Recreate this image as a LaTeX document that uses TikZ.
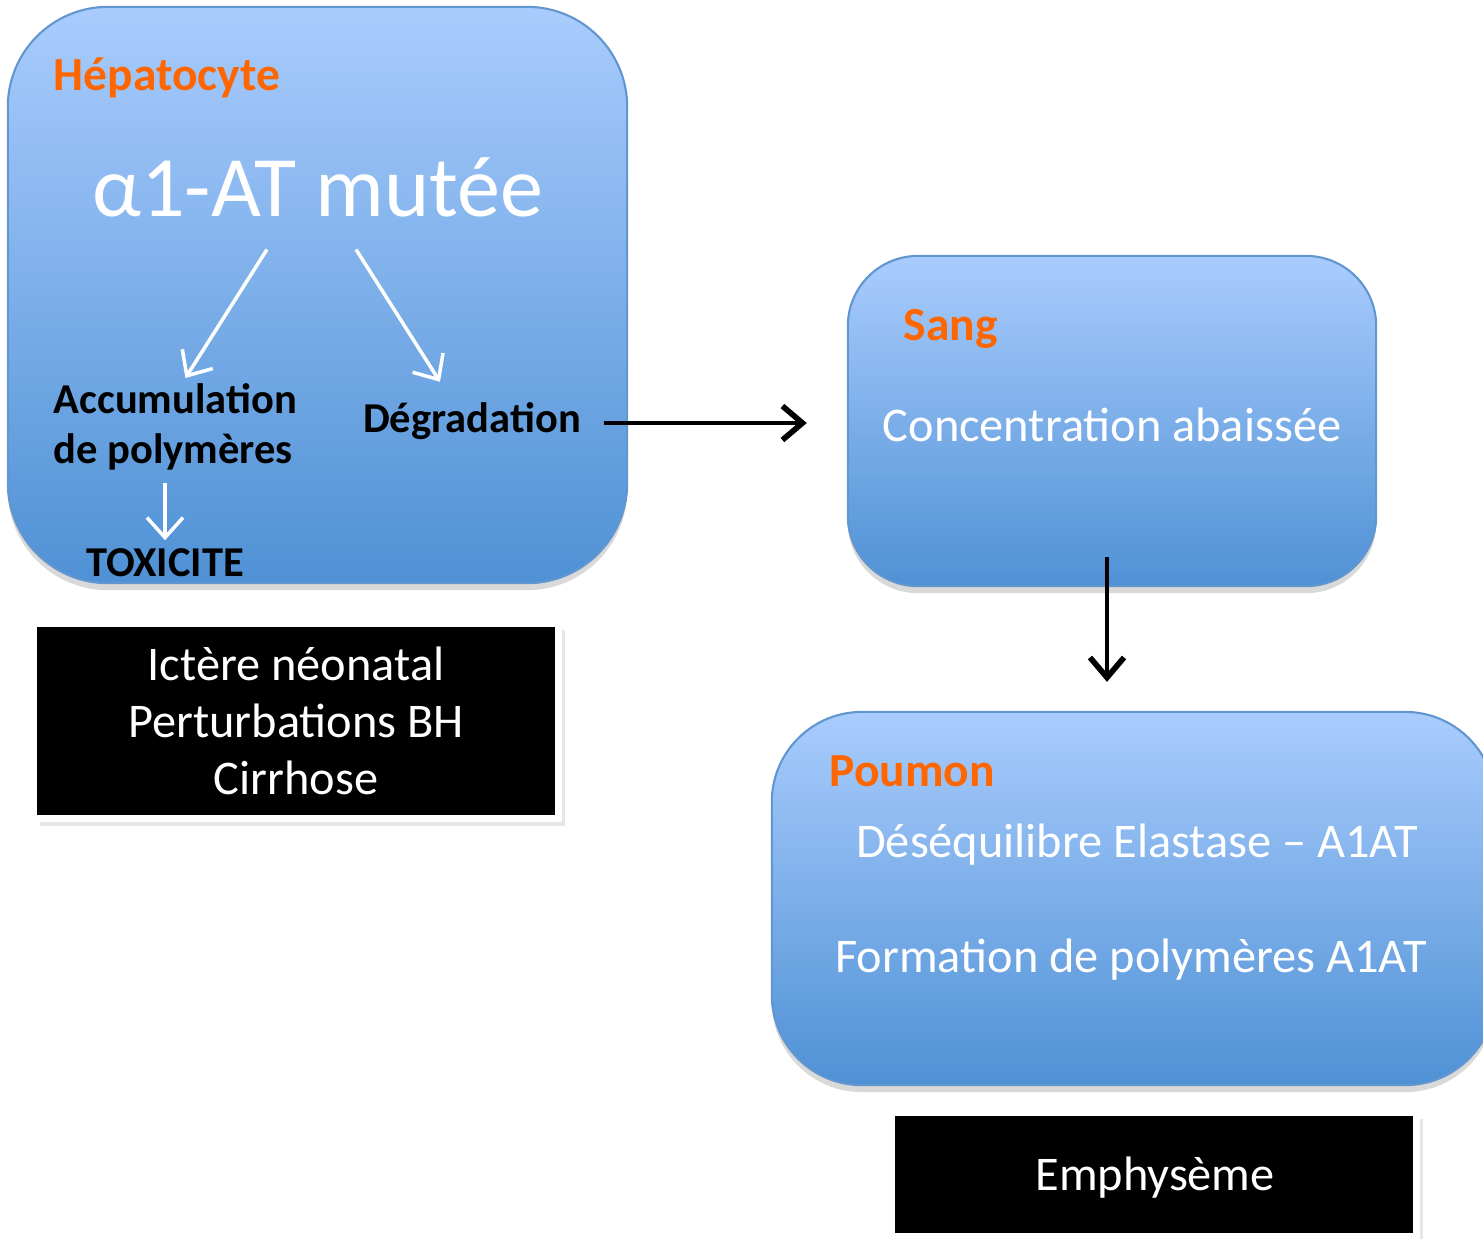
\documentclass[tikz,border=0pt]{standalone}
\usepackage{fontspec}
\setmainfont{Carlito}
\usetikzlibrary{arrows.meta,positioning,shadows}
\definecolor{boxtop}{HTML}{A9CCFD}
\definecolor{boxbot}{HTML}{4F91D5}
\definecolor{boxline}{HTML}{6196D0}
\definecolor{organ}{HTML}{FF6600}

\begin{document}
\begin{tikzpicture}[x=0.01cm,y=-0.01cm,
  organbox/.style={rectangle,top color=boxtop,bottom color=boxbot,draw=boxline,line width=0.6pt,
    drop shadow={opacity=0.3,shadow xshift=0pt,shadow yshift=-0.07cm}},
  sickbox/.style={rectangle,fill=black,draw=white,line width=0.07cm,text=white,align=center,
    font=\fontsize{13.75}{16.2}\selectfont,drop shadow={opacity=0.2,shadow xshift=0.065cm,shadow yshift=-0.07cm}},
  organtitle/.style={anchor=base west,inner sep=0pt,text=organ,font=\fontsize{13.5}{16}\bfseries},
  lbl/.style={inner sep=0pt,font=\fontsize{12.1}{14.3}\selectfont\bfseries},
  wtext/.style={inner sep=0pt,text=white,font=\fontsize{13.75}{16}\selectfont},
  warrow/.style={white,line width=1pt,-{Straight Barb[length=2mm,width=3.6mm]}},
  barrow/.style={black,line width=1.4pt,-{Straight Barb[length=2mm,width=3.4mm,line width=1.6pt]}}]
  \useasboundingbox (0,0) rectangle (1483,1238);
  % Organ boxes
  \node[organbox,rounded corners=1cm,minimum width=6.19cm,minimum height=5.76cm] (hep) at (317.5,295) {};
  \node[organbox,rounded corners=0.7cm,minimum width=5.28cm,minimum height=3.3cm] (sang) at (1112,421) {};
  \node[organbox,rounded corners=0.9cm,minimum width=7.23cm,minimum height=3.73cm] (poumon) at (1133.5,898.5) {};
  % Hepatocyte
  \node[organtitle] (hept) at (53,90) {Hépatocyte};
  \node[inner sep=0pt,text=white,font=\fontsize{24.5}{28}\selectfont] (mut) at (318,187) {α1-AT mutée};
  \node[lbl,align=left,anchor=north west] (acc) at (53,383) {Accumulation\\de polymères};
  \node[lbl] (tox) at (165,563) {TOXICITE};
  \node[lbl] (deg) at (472,421) {Dégradation};
  \draw[warrow] ([xshift=-0.51cm,yshift=-0.32cm]mut.south) -- ([xshift=0.1cm,yshift=0.05cm]acc.north);
  \draw[warrow] ([xshift=0.38cm,yshift=-0.32cm]mut.south) -- ([xshift=-0.32cm,yshift=0.2cm]deg.north);
  \draw[warrow,shorten <=0.12cm,shorten >=0.08cm] (acc.south -| tox) -- (tox.north);
  % Sang
  \node[organtitle] (sangt) at (903,340) {Sang};
  \node[wtext] (conc) at (1112,425) {Concentration abaissée};
  % Poumon
  \node[organtitle] (poumont) at (829,786) {Poumon};
  \node[wtext] (deseq) at (1137,845) {Déséquilibre Elastase – A1AT};
  \node[wtext] (form) at (1131,960) {Formation de polymères A1AT};
  % Consequences
  \node[sickbox,minimum width=5.25cm,minimum height=1.95cm] (liver) at (296,721) {Ictère néonatal\\Perturbations BH\\Cirrhose};
  \node[sickbox,minimum width=5.25cm,minimum height=1.24cm] (emph) at (1154,1174) {};
  \node[wtext] (emphtxt) at (1155,1178) {Emphysème};
  % Links
  \draw[barrow,shorten <=0.22cm,shorten >=0.4cm] ([yshift=-0.02cm]deg.east) -- ([yshift=-0.02cm]deg.east -| sang.west);
  \draw[barrow,shorten >=0.29cm] ([xshift=-0.05cm,yshift=0.3cm]sang.south) -- ([xshift=-0.05cm]sang.south |- poumon.north);
\end{tikzpicture}
\end{document}
